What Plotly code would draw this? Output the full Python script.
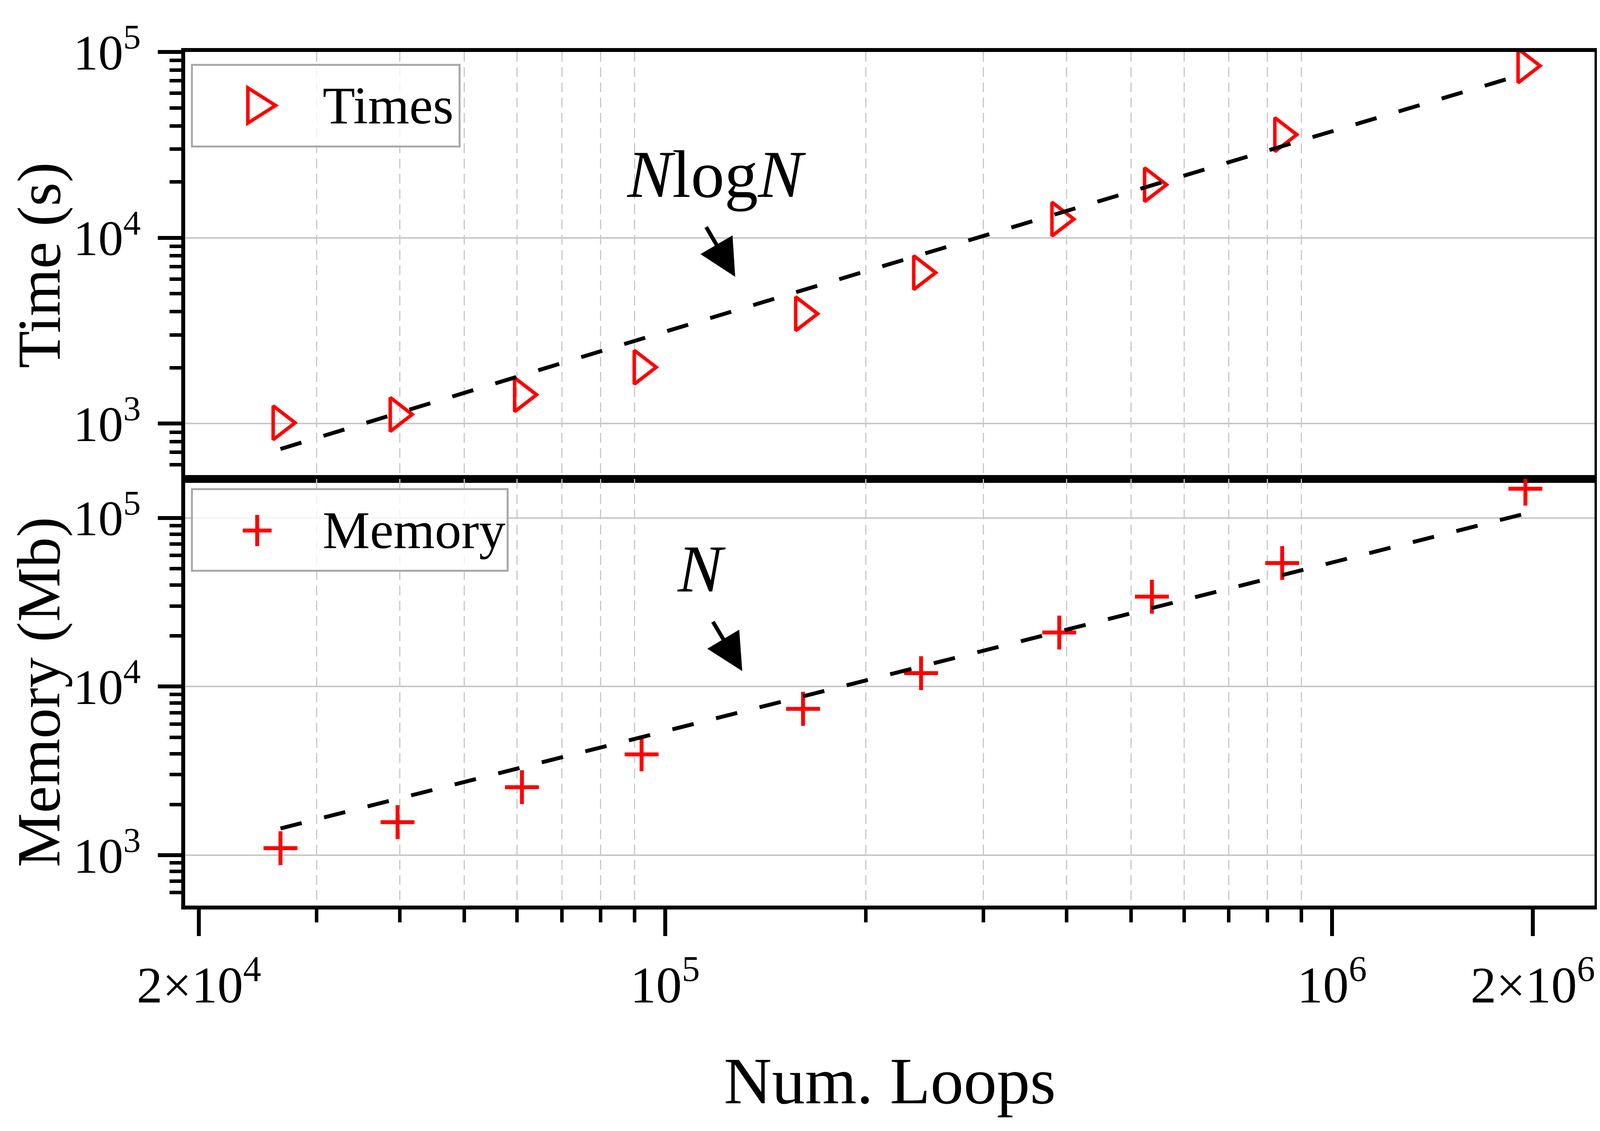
import plotly.graph_objects as go
from plotly.subplots import make_subplots

# number of loops (same for both panels)
loops = [26500, 39700, 61000, 92200, 161000, 242000, 390000, 537000, 842000, 1950000]
# measured values
times = [1010, 1120, 1430, 2010, 3900, 6490, 12600, 19300, 35900, 84200]
memory = [1100, 1570, 2530, 3960, 7370, 12000, 20900, 34100, 54000, 149000]
# dashed reference curves
fit_nlogn = [730, 1140, 1820, 2860, 5230, 8130, 13600, 19200, 31100, 76500]
fit_n = [1440, 2160, 3320, 5030, 8780, 13200, 21300, 29300, 45900, 106000]

x_major = [2e4, 1e5, 1e6, 2e6]
x_major_text = ["2×10<sup>4</sup>", "10<sup>5</sup>", "10<sup>6</sup>", "2×10<sup>6</sup>"]
x_minor = [3e4, 4e4, 5e4, 6e4, 7e4, 8e4, 9e4,
           2e5, 3e5, 4e5, 5e5, 6e5, 7e5, 8e5, 9e5]
y_major = [1e3, 1e4, 1e5]
y_major_text = ["10<sup>3</sup>", "10<sup>4</sup>", "10<sup>5</sup>"]
y_minor = [600, 700, 800, 900,
           2000, 3000, 4000, 5000, 6000, 7000, 8000, 9000,
           20000, 30000, 40000, 50000, 60000, 70000, 80000, 90000]

FONT = "Liberation Serif"
GRID = "#c8c8c8"
DASH = "56px,59px"

fig = make_subplots(rows=2, cols=1, shared_xaxes=True, vertical_spacing=0)

fig.add_trace(go.Scatter(x=loops, y=times, mode="markers", name="Times",
                         marker=dict(symbol="triangle-right-open", size=75, color="red",
                                     line=dict(color="red", width=9))), 1, 1)
fig.add_trace(go.Scatter(x=loops, y=fit_nlogn, mode="lines", name="NlogN",
                         line=dict(color="black", width=10, dash=DASH)), 1, 1)
fig.add_trace(go.Scatter(x=loops, y=memory, mode="markers", name="Memory",
                         marker=dict(symbol="cross-thin-open", size=62, color="red",
                                     line=dict(color="red", width=10))), 2, 1)
fig.add_trace(go.Scatter(x=loops, y=fit_n, mode="lines", name="N",
                         line=dict(color="black", width=10, dash=DASH)), 2, 1)

xcommon = dict(type="log", range=[4.2803, 6.3937], showline=True, linewidth=10,
               linecolor="black", mirror=True, showgrid=False, zeroline=False,
               automargin=False)
fig.update_xaxes(**xcommon, row=1, col=1, ticks="", showticklabels=False,
                 minor=dict(tickvals=x_minor, ticks="", showgrid=True, gridcolor=GRID,
                            gridwidth=3, griddash="25px,14px"))
fig.update_xaxes(**xcommon, row=2, col=1, ticks="outside", ticklen=68, tickwidth=10,
                 tickcolor="black", tickmode="array", tickvals=x_major, ticktext=x_major_text,
                 ticklabelstandoff=12, tickfont=dict(size=132),
                 title=dict(text="Num. Loops", font=dict(size=170), standoff=115),
                 minor=dict(tickvals=x_minor, ticks="outside", ticklen=33, tickwidth=9,
                            tickcolor="black", showgrid=True, gridcolor=GRID,
                            gridwidth=3, griddash="25px,14px"))

ycommon = dict(type="log", showline=True, linewidth=10, linecolor="black", mirror=True,
               ticks="outside", ticklen=60, tickwidth=10, tickcolor="black",
               tickmode="array", tickvals=y_major, ticktext=y_major_text,
               tickfont=dict(size=128), ticklabelstandoff=18, automargin=False,
               showgrid=True, gridcolor=GRID, gridwidth=4, zeroline=False,
               minor=dict(tickvals=y_minor, ticks="outside", ticklen=30, tickwidth=9,
                          tickcolor="black", showgrid=False))
fig.update_yaxes(**ycommon, row=1, col=1, range=[2.703, 5.0], domain=[0.5, 1.0])
fig.update_yaxes(**ycommon, row=2, col=1, range=[2.701, 5.232], domain=[0.0, 0.5])

# y titles as rotated annotations so they can sit close to the page edge
ytitle = dict(xref="paper", yref="paper", x=-0.1036, xanchor="center", yanchor="middle",
              textangle=-90, showarrow=False, font=dict(size=156))
fig.add_annotation(**ytitle, text="Time (s)", y=0.75)
fig.add_annotation(**ytitle, text="Memory (Mb)", y=0.25)

# legend boxes drawn by hand (plotly caps legend symbol size)
box = dict(type="rect", xref="paper", yref="paper", line=dict(color="#a8a8a8", width=5),
           fillcolor="rgba(255,255,255,0.8)", layer="above")
fig.add_shape(**box, x0=0.0048, x1=0.1947, y0=0.8892, y1=0.9849)
fig.add_shape(**box, x0=0.0048, x1=0.2288, y0=0.3922, y1=0.4879)
fig.add_shape(type="path", xref="paper", yref="paper", xsizemode="pixel", ysizemode="pixel",
              xanchor=0.0542, yanchor=0.9373, path="M-35,-45 L36,0 L-35,45 Z",
              line=dict(color="red", width=9), layer="above")
fig.add_shape(type="path", xref="paper", yref="paper", xsizemode="pixel", ysizemode="pixel",
              xanchor=0.0511, yanchor=0.4394, path="M-37,0 H37 M0,-40 V40",
              line=dict(color="red", width=10), layer="above")
fig.add_annotation(text="Times", xref="paper", yref="paper", x=0.097, y=0.9373,
                   xanchor="left", yanchor="middle", showarrow=False, font=dict(size=136))
fig.add_annotation(text="Memory", xref="paper", yref="paper", x=0.097, y=0.4398,
                   xanchor="left", yanchor="middle", showarrow=False, font=dict(size=136))

# curve labels with arrows (coordinates in log10 units)
fig.add_annotation(text="<i>N</i>log<i>N</i>", xref="x", yref="y", x=5.0769, y=4.3419,
                   showarrow=False, font=dict(size=172))
fig.add_annotation(text="<i>N</i>", xref="x2", yref="y2", x=5.0542, y=4.6987,
                   showarrow=False, font=dict(size=172))
arrow = dict(text=" ", showarrow=True, arrowhead=2, arrowwidth=10, arrowsize=1.9,
             arrowcolor="black", standoff=0, startstandoff=0, font=dict(size=1),
             borderpad=0)
fig.add_annotation(**arrow, xref="x", yref="y", axref="x", ayref="y",
                   x=5.1051, y=3.790, ax=5.0613, ay=4.0596)
fig.add_annotation(**arrow, xref="x2", yref="y2", axref="x2", ayref="y2",
                   x=5.1157, y=4.0915, ax=5.0714, ay=4.3859)

fig.update_layout(showlegend=False,
                  margin=dict(l=466, r=6, t=125, b=569, autoexpand=False),
                  font=dict(family=FONT, color="black", size=132),
                  plot_bgcolor="white", paper_bgcolor="white")

fig.write_html("out.html")
